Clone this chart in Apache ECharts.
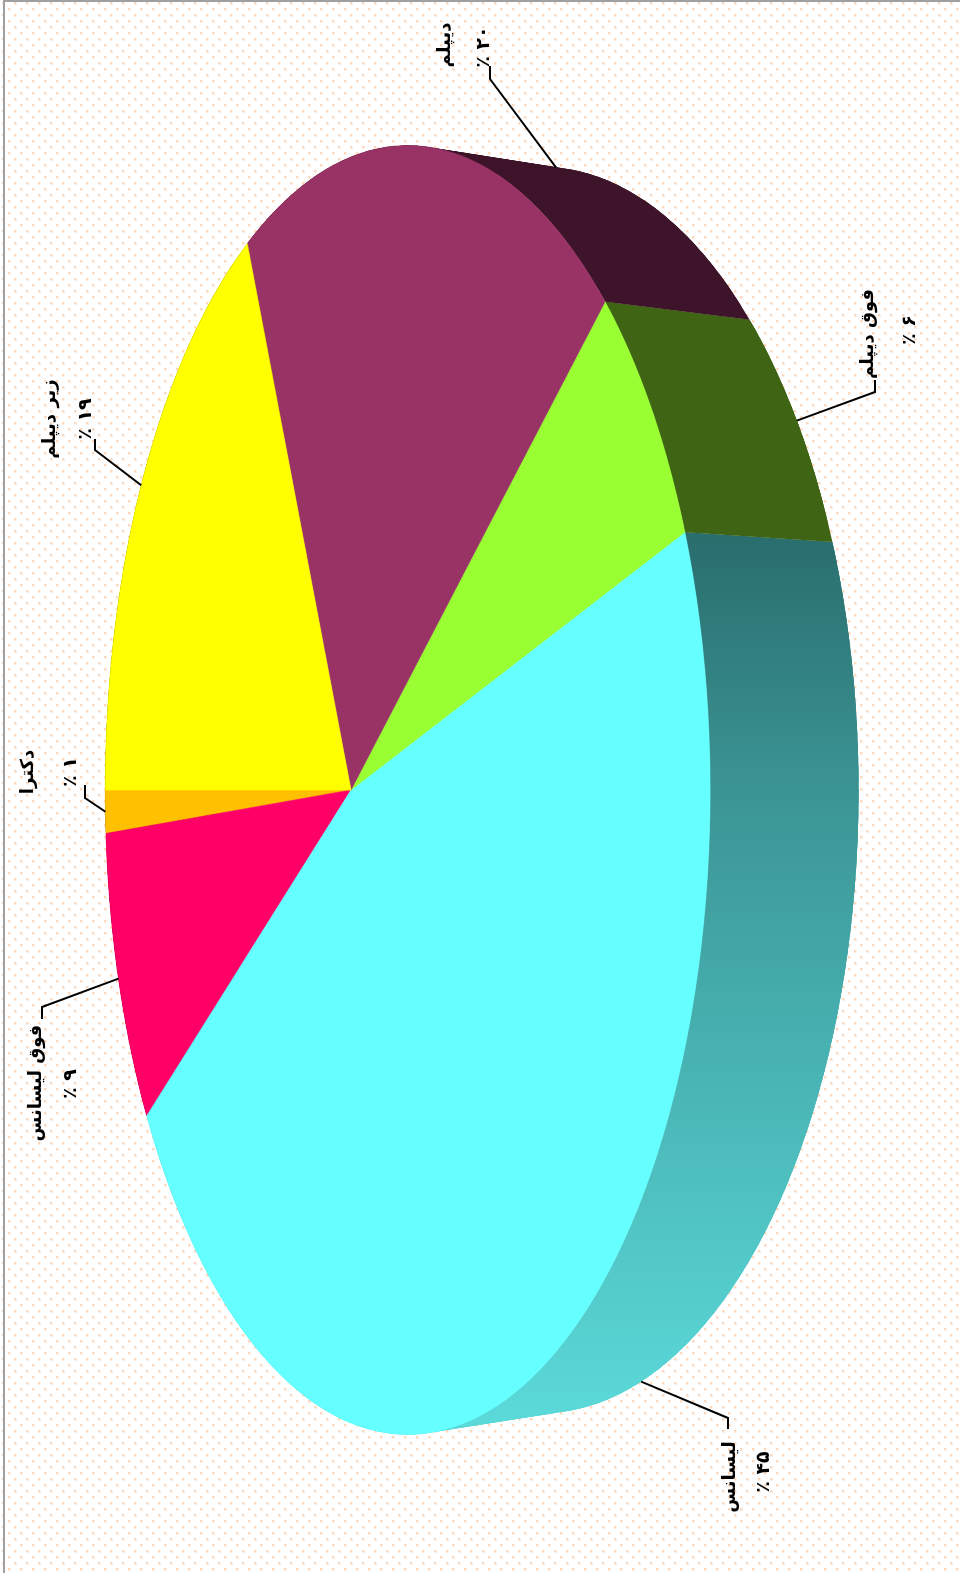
<!DOCTYPE html>
<html><head><meta charset="utf-8">
<style>html,body{margin:0;padding:0;background:#fff}#c{width:960px;height:1573px}</style>
<script src="https://cdn.jsdelivr.net/npm/echarts@6/dist/echarts.min.js"></script>
</head><body><div id="c"></div>
<script>
// Data (slice order follows the rim, starting at the left of the disc)
const categories = ['دکترا', 'فوق لیسانس', 'لیسانس', 'فوق دیپلم', 'دیپلم', 'زیر دیپلم'];
const shares = [1.3, 8.8, 45.4, 6.1, 19.7, 18.8];
const percentLabels = ['٪ ۱', '٪ ۹', '٪ ۴۵', '٪ ۶', '٪ ۲۰', '٪ ۱۹'];
const topColors = ['#ffc000', '#ff0066', '#66ffff', '#99ff33', '#993366', '#ffff00'];
const sideColors = ['#664d00', '#660029', null, '#3f6414', '#3d1429', '#666600'];

// Perspective of the tilted disc
const VIEW = {A: 226, B: 351, C: -0.1874, D: 633, cy: 790, E: 149, G: 0.033};
function project(angle, depth) {
  const u = -Math.cos(angle), v = Math.sin(angle);
  const w = 1 + VIEW.C * u + VIEW.G * depth;
  return [(VIEW.A * u + VIEW.B + VIEW.E * depth) / w, VIEW.cy + VIEW.D * v / w];
}
const total = shares.reduce((a, b) => a + b, 0);
function bounds(i) {
  let s = 0;
  for (let k = 0; k < i; k++) s += shares[k];
  return [s / total * 2 * Math.PI, (s + shares[i]) / total * 2 * Math.PI];
}
function arc(a0, a1, depth) {
  const n = Math.max(2, Math.ceil((a1 - a0) / 0.01)), out = [];
  for (let k = 0; k <= n; k++) out.push(project(a0 + (a1 - a0) * k / n, depth));
  return out;
}
// Label layout: elbow, line end, and the two text centres; rimDepth is where the leader meets the pie
const labelLayout = [
  {rimDepth: 0, elbow: [85, 798], end: [85, 785], name: [28, 772], pct: [71, 772]},
  {rimDepth: 0, elbow: [42, 1007], end: [42, 1019], name: [36, 1083], pct: [71, 1084]},
  {rimDepth: 1, elbow: [728, 1418], end: [728, 1429], name: [730, 1477], pct: [764, 1472]},
  {rimDepth: 1, elbow: [875, 392], end: [875, 380], name: [868, 334], pct: [910, 330]},
  {rimDepth: 1, elbow: [490, 79], end: [490, 66], name: [445, 45], pct: [484, 47]},
  {rimDepth: 0, elbow: [95, 450], end: [95, 439], name: [50, 419], pct: [86, 419]}
];

const seriesData = shares.map((v, i) => ({name: categories[i], value: [v, i]}));
const tealWall = new echarts.graphic.LinearGradient(0, 540, 0, 1420, [
  {offset: 0, color: '#2a6e6e'}, {offset: 0.3, color: '#3c9696'},
  {offset: 0.65, color: '#4bb8b8'}, {offset: 1, color: '#5bd9d9'}
], true);

function wallItem(params, api) {
  const i = api.value(1), [a0, a1] = bounds(i);
  const topRim = arc(a0, a1, 0), lowRim = arc(a0, a1, 1);
  const fill = sideColors[i] || tealWall, children = [];
  // overlapping faces along the rim, so the tangent fold of the wall stays covered without seams
  const span = 8, step = 3;
  for (let k = 0; k + 1 < topRim.length; k += step) {
    const e = Math.min(k + span + 1, topRim.length);
    children.push({type: 'polygon',
      shape: {points: topRim.slice(k, e).concat(lowRim.slice(k, e).reverse())},
      style: {fill}});
  }
  return {type: 'group', children};
}
function topItem(params, api) {
  const i = api.value(1), [a0, a1] = bounds(i);
  const all = [[VIEW.B, VIEW.cy]].concat(arc(a0, a1, 0));
  return {type: 'polygon', shape: {points: all}, style: {fill: topColors[i], stroke: topColors[i], lineWidth: 0.6}};
}
function rotatedText(text, pos, size) {
  return {type: 'text', x: pos[0], y: pos[1], rotation: Math.PI / 2,
    style: {text, x: 0, y: 0, fill: '#000', align: 'center', verticalAlign: 'middle',
      font: 'bold ' + size + 'px "DejaVu Sans"'}};
}
function labelItem(params, api) {
  const i = api.value(1), [a0, a1] = bounds(i), L = labelLayout[i];
  const start = project((a0 + a1) / 2, L.rimDepth);
  return {type: 'group', children: [
    {type: 'polyline', shape: {points: [start, L.elbow, L.end]},
      style: {fill: 'none', stroke: '#000', lineWidth: 2}},
    rotatedText(categories[i], L.name, 18),
    rotatedText(percentLabels[i], L.pct, 19)
  ]};
}

const tile = document.createElement('canvas');
tile.width = 12; tile.height = 12;
const g = tile.getContext('2d');
g.fillStyle = '#fff'; g.fillRect(0, 0, 12, 12);
g.fillStyle = '#feeee2';
g.fillRect(2, 2, 3, 3); g.fillRect(8, 8, 3, 3);
g.fillStyle = '#fcd8bc';
g.fillRect(2, 2, 2, 2); g.fillRect(8, 8, 2, 2);

const chart = echarts.init(document.getElementById('c'), null, {width: 960, height: 1573});
chart.setOption({
  animation: false,
  backgroundColor: {image: tile, repeat: 'repeat'},
  tooltip: {show: false},
  xAxis: {show: false}, yAxis: {show: false},
  grid: {left: 0, right: 0, top: 0, bottom: 0},
  graphic: [
    {type: 'rect', shape: {x: 3, y: 0, width: 2, height: 1573}, style: {fill: '#a0a0a0'}},
    {type: 'rect', shape: {x: 3, y: 0, width: 957, height: 2}, style: {fill: '#a0a0a0'}}
  ],
  series: [
    {type: 'custom', coordinateSystem: 'none', silent: true, data: seriesData, renderItem: wallItem, z: 1},
    {type: 'custom', coordinateSystem: 'none', silent: true, data: seriesData, renderItem: topItem, z: 2},
    {type: 'custom', coordinateSystem: 'none', silent: true, data: seriesData, renderItem: labelItem, z: 3}
  ]
});
</script></body></html>
